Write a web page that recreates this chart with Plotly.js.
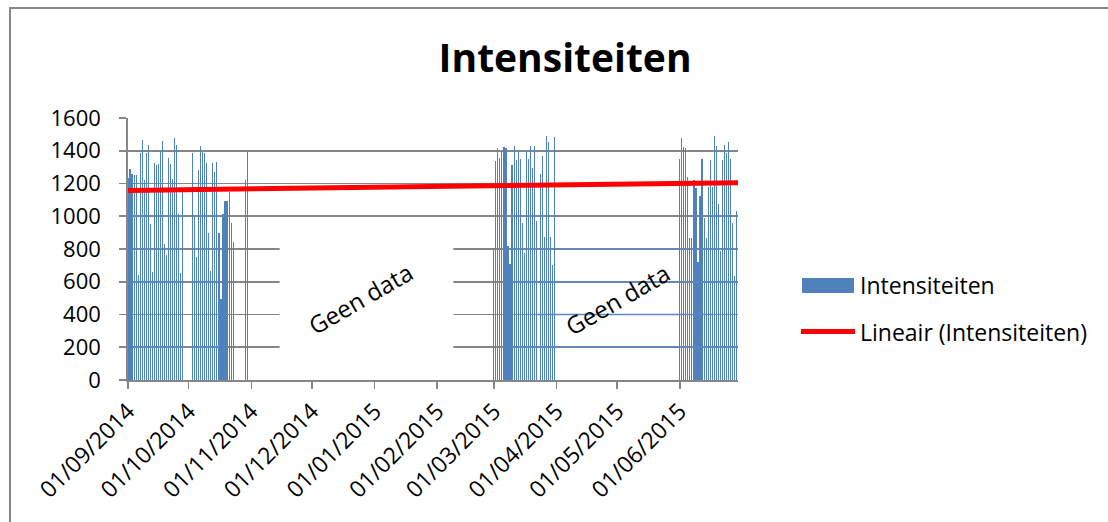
<!DOCTYPE html>
<html>
<head>
<meta charset="utf-8">
<script src="https://cdn.plot.ly/plotly-3.0.1.min.js"></script>
<style>
  html, body { margin: 0; padding: 0; background: #ffffff; }
  #frame { position: absolute; left: 9px; top: 7px; width: 1300px; height: 700px;
           border-left: 2px solid #878787; border-top: 2px solid #878787; }
  #chart { position: absolute; left: 0; top: 0; width: 1108px; height: 522px; }
</style>
</head>
<body>
<div id="frame"></div>
<div id="chart"></div>
<script>
// Daily intensities per measuring period (null = no measurement that day)
const sep2014Start = '2014-09-01';
const sep2014Values = [1236, 1287, 1258, 1254, 1254, 641, 1385, 1465, 1219, 1385,
  1434, 955, 662, 1328, 1313, 1317, 1399, 1461, 832, 764,
  1358, 1320, 1225, 1479, 1434, 1016, 656, 1147, null, null];

const oct2014Start = '2014-10-01';
const oct2014Values = [null, null, 1389, 996, 750, 1281, 1428, 1393, 1389, 1324,
  897, 666, 1328, 1272, 1334, 897, 492, 1016, 1096, 1096,
  1149, 959, 842, null, null, null, null, null, 1219, 1393];

const mar2015Start = '2015-03-01';
const mar2015Values = [805, 1338, 1414, 1358, 1399, 1420, 1414, 820, 709, 1311,
  1426, 1344, 1399, 1348, 959, 775, 1399, 1352, 1426, 1297,
  1426, 969, null, 1256, 1369, 873, 1492, 1451, 873, 703, 1481];

const jun2015Start = '2015-06-01';
const jun2015Values = [1348, 1475, 1420, 1414, 1242, 866, 870, 1219, 1174, 723,
  1123, 1352, 990, 870, 1180, 1342, 1180, 1488, 1430, 1072,
  785, 1344, 1434, 1389, 1455, 1348, 959, 637, 1031];

// Linear trend (Lineair) end points
const trendDates = ['2014-09-01', '2015-06-29 19:00'];
const trendValues = [1158, 1205];

// Axis ticks: first day of each month
const tickDates = ['2014-09-01', '2014-10-01', '2014-11-01', '2014-12-01', '2015-01-01',
  '2015-02-01', '2015-03-01', '2015-04-01', '2015-05-01', '2015-06-01'];
const tickLabels = ['01/09/2014', '01/10/2014', '01/11/2014', '01/12/2014', '01/01/2015',
  '01/02/2015', '01/03/2015', '01/04/2015', '01/05/2015', '01/06/2015'];

const seriesName = 'Intensiteiten';
const trendName = 'Lineair (Intensiteiten)';
const noDataText = 'Geen data';

function dayList(start, n) {
  const out = [];
  const d0 = new Date(start + 'T00:00:00Z');
  for (let i = 0; i < n; i++) {
    const d = new Date(d0.getTime() + i * 86400000);
    out.push(d.toISOString().slice(0, 10));
  }
  return out;
}

const periods = [
  [sep2014Start, sep2014Values],
  [oct2014Start, oct2014Values],
  [mar2015Start, mar2015Values],
  [jun2015Start, jun2015Values]
];
let xs = [], ys = [];
periods.forEach(([s, v]) => {
  xs = xs.concat(dayList(s, v.length));
  ys = ys.concat(v);
});

const FONT = 'Open Sans, Liberation Sans, Arial, sans-serif';
const BLUE = '#4f81bd';
const GRID = '#868686';

const bars = {
  type: 'bar', x: xs, y: ys, name: seriesName,
  width: 0.55 * 86400000,
  marker: { color: BLUE, line: { width: 0 } },
  showlegend: false, hoverinfo: 'x+y'
};
const trend = {
  type: 'scatter', mode: 'lines', x: trendDates, y: trendValues, name: trendName,
  line: { color: '#ff0000', width: 5 }, showlegend: false
};

// Plot-area pixel helpers for the hand-built legend (paper coordinates)
const PL = 128, PW = 610, PT = 118, PH = 262;
const px = v => (v - PL) / PW;
const py = v => (PT + PH - v) / PH;

const blueGrid = [200, 400, 600, 800].map(v => ({
  type: 'line', xref: 'x', yref: 'y', layer: 'above',
  x0: '2015-03-22', x1: '2015-06-17', y0: v, y1: v,
  line: { color: '#5b87c2', width: 1.6 }
}));

const layout = {
  width: 1108, height: 522,
  margin: { l: PL, r: 1108 - PL - PW, t: PT, b: 522 - PT - PH, pad: 0 },
  paper_bgcolor: 'rgba(0,0,0,0)', plot_bgcolor: 'rgba(0,0,0,0)',
  font: { family: FONT, color: '#000000' },
  bargap: 0,
  title: {
    text: '<b>Intensiteiten</b>', xref: 'container', yref: 'container',
    x: 0.51, xanchor: 'center', y: 1 - 58 / 522, yanchor: 'middle',
    font: { family: FONT, size: 39, color: '#000000' }
  },
  xaxis: {
    type: 'date', range: ['2014-09-01', '2015-06-29 19:00'],
    tickvals: tickDates, ticktext: tickLabels, tickangle: -45,
    ticks: 'outside', ticklen: 7, tickwidth: 1.6, tickcolor: GRID,
    showline: true, linecolor: GRID, linewidth: 1.8,
    showgrid: false, zeroline: false,
    tickfont: { family: FONT, size: 23, color: '#000000' }
  },
  yaxis: {
    range: [0, 1600], dtick: 200, tick0: 0,
    ticks: 'outside', ticklen: 7, tickwidth: 1.6, tickcolor: GRID,
    showline: true, linecolor: GRID, linewidth: 1.8,
    showgrid: true, gridcolor: GRID, gridwidth: 1.6, zeroline: false,
    ticklabelstandoff: 14,
    tickfont: { family: FONT, size: 22, color: '#000000' }
  },
  shapes: [
    // blank panel behind the first "Geen data" label
    { type: 'rect', xref: 'x', yref: 'y', layer: 'above',
      x0: '2014-11-15', x1: '2015-02-09', y0: 100, y1: 900,
      fillcolor: '#ffffff', line: { width: 0 } },
    ...blueGrid,
    // legend samples
    { type: 'rect', xref: 'paper', yref: 'paper',
      x0: px(802), x1: px(854), y0: py(293), y1: py(278),
      fillcolor: BLUE, line: { width: 0 } },
    { type: 'line', xref: 'paper', yref: 'paper',
      x0: px(801), x1: px(855), y0: py(331.5), y1: py(331.5),
      line: { color: '#ff0000', width: 5 } }
  ],
  annotations: [
    { text: noDataText, xref: 'x', yref: 'y', x: '2014-12-25', y: 495,
      textangle: -30, showarrow: false, font: { family: FONT, size: 24, color: '#000000' } },
    { text: noDataText, xref: 'x', yref: 'y', x: '2015-05-01', y: 490,
      textangle: -30, showarrow: false, font: { family: FONT, size: 24, color: '#000000' } },
    { text: seriesName, xref: 'paper', yref: 'paper', x: px(858), y: py(285),
      xanchor: 'left', yanchor: 'middle', showarrow: false,
      font: { family: FONT, size: 23, color: '#000000' } },
    { text: trendName, xref: 'paper', yref: 'paper', x: px(858), y: py(332),
      xanchor: 'left', yanchor: 'middle', showarrow: false,
      font: { family: FONT, size: 23, color: '#000000' } }
  ]
};

Plotly.newPlot('chart', [bars, trend], layout, { staticPlot: true, displayModeBar: false });
</script>
</body>
</html>
